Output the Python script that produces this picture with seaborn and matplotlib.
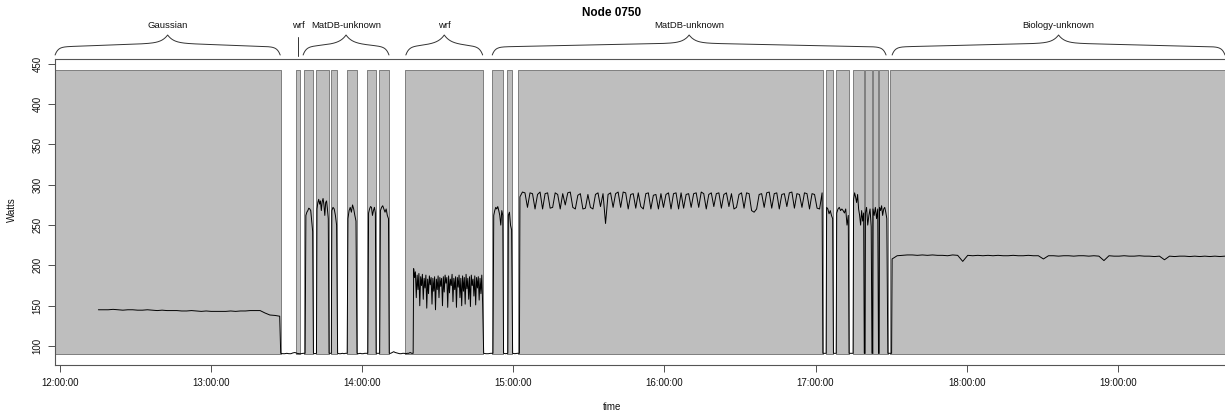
import numpy as np
import pandas as pd
import matplotlib
matplotlib.use("Agg")
import matplotlib.pyplot as plt
import seaborn as sns

# ---------------- data (minutes after 12:00:00) ----------------
title = "Node 0750"
hour_ticks = [0, 60, 120, 180, 240, 300, 360, 420]
hour_labels = ["12:00:00", "13:00:00", "14:00:00", "15:00:00",
               "16:00:00", "17:00:00", "18:00:00", "19:00:00"]
watt_ticks = [100, 150, 200, 250, 300, 350, 400, 450]

# grey "busy" bands
gray_start = [-2.0, 93.7, 97.0, 101.6, 107.6, 113.8, 122.0, 126.6, 137.1,
              171.6, 177.6, 182.0, 304.0, 308.0, 314.7, 319.7, 322.7, 325.3, 329.7]
gray_end = [87.6, 95.3, 100.5, 106.7, 110.1, 117.8, 125.4, 130.6, 168.1,
            176.0, 179.5, 302.8, 307.0, 313.2, 319.3, 322.3, 324.9, 328.6, 480.0]
gray_low, gray_high = 90, 442

# jobs (braces on top)
job_names = ["Gaussian", "wrf", "MatDB-unknown", "wrf", "MatDB-unknown", "Biology-unknown"]
job_start = [-2.0, 94.4, 96.5, 137.3, 171.6, 330.4]
job_end = [87.4, 94.6, 130.6, 167.8, 328.0, 462.6]

# power trace, segment by segment: (start, end, watts)
gauss_w = [145, 145, 145, 145.5, 145, 144.5, 145, 145, 144.5, 144.5, 145, 144.5, 144,
           144.5, 144, 144, 144, 143.5, 143.5, 144, 143.5, 143, 143.5, 143, 143, 143,
           143, 143.5, 143, 143.5, 143.5, 144, 144, 144, 141, 138.5, 138, 137]
idle1_w = [91, 90.5, 90.5, 91, 90.5, 90.5, 91.5, 92, 91, 90.5, 90.5, 91, 91]
matdb_a_w = [262, 266, 268, 271, 270, 268, 255, 242]
idle2_w = [91, 90.5, 91]
matdb_b_w = [270, 278, 282, 276, 280, 268, 279, 283, 275, 262, 278, 280, 270, 258]
idle3_w = [91, 91]
matdb_c_w = [268, 272, 270, 262, 250]
idle4_w = [91, 90.5, 90.5, 91, 90.5, 91, 91]
matdb_d_w = [258, 268, 272, 266, 275, 270, 262, 255]
idle5_w = [91, 90.5, 91, 90.5, 90.5, 91, 91, 91]
matdb_e_w = [265, 270, 273, 272, 262, 268, 272, 265]
idle6_w = [91, 91, 91]
matdb_f_w = [268, 272, 274, 270, 266, 270, 262, 258]
idle7_w = [91, 91, 92, 93, 92, 91.5, 91, 90.5, 90.5, 91, 91, 90.5, 91, 91, 92, 91, 91]
wrf_w = [196, 185, 192, 160, 188, 170, 190, 150, 186, 175, 189, 158, 184, 172, 188, 147,
         183, 165, 187, 176, 185, 152, 184, 168, 186, 145, 183, 170, 187, 160, 185, 174,
         184, 150, 186, 167, 188, 178, 185, 148, 187, 166, 183, 175, 189, 155, 184, 170,
         186, 148, 185, 173, 188, 160, 184, 150, 187, 168, 185, 152, 189, 171, 184, 158,
         186, 149, 188, 175, 183, 162, 187, 151, 185, 172, 186, 157, 184, 165, 188, 152]
idle8_w = [91, 90.5, 90.5, 91, 91]
matdb_g_w = [262, 268, 272, 270, 273, 268, 262, 250, 268, 262]
idle9_w = [91, 90.5, 91]
matdb_h_w = [262, 266, 250, 244]
idle10_w = [91, 90.5, 91, 91]
matdb_big_w = [285, 291, 290, 272, 290, 289, 270, 288, 291, 270,
               289, 290, 271, 272, 290, 288, 270, 289, 275, 290,
               291, 272, 270, 287, 289, 270, 271, 288, 272, 270,
               288, 290, 273, 289, 252, 288, 290, 272, 289, 291,
               272, 291, 290, 270, 288, 289, 271, 290, 273, 270,
               289, 290, 270, 287, 288, 270, 289, 272, 288, 290,
               270, 289, 290, 270, 290, 271, 288, 289, 272, 289,
               290, 272, 291, 289, 270, 288, 290, 273, 289, 290,
               271, 288, 290, 273, 289, 270, 272, 288, 290, 271,
               290, 289, 268, 266, 270, 288, 289, 272, 290, 291,
               271, 289, 290, 270, 288, 289, 273, 290, 291, 271,
               289, 288, 272, 290, 289, 270, 289, 288, 271, 270, 290]
idle11_w = [91, 91]
matdb_i_w = [272, 270, 264, 268, 262, 258]
idle12_w = [91, 91]
matdb_j_w = [265, 270, 272, 268, 270, 268, 265, 270, 250, 262]
idle13_w = [91, 91, 91]
matdb_k_w = [282, 290, 285, 278, 288, 270, 262, 250, 268, 255, 265]
idle14_w = [91, 91]
matdb_l_w = [265, 272, 250, 262, 270, 248]
idle15_w = [91, 91]
matdb_m_w = [270, 262, 272, 258, 270]
idle16_w = [91, 91]
matdb_n_w = [272, 268, 274, 262, 270, 272, 266, 258]
idle17_w = [91, 91, 91]
bio_w = [208, 212, 212.5, 213, 213, 212.5, 213, 212.5, 213, 212.5,
         212.5, 212, 213, 212.5, 205, 212.5, 212, 212.5, 212, 212.5,
         212, 212.5, 212, 212, 212.5, 212, 212, 212.5, 212, 212,
         208, 212, 212, 211.5, 212, 212, 211.5, 212, 212, 211.5,
         212, 211.5, 206, 212, 211.5, 211.5, 212, 211.5, 211.5, 212,
         211.5, 211.5, 211, 211.5, 207, 211.5, 211, 211.5, 211.5, 211,
         211.5, 211, 211.5, 211, 211.5, 211, 211.5]

segments = [
    (15.2, 87.2, gauss_w), (87.6, 97.3, idle1_w), (97.6, 100.3, matdb_a_w),
    (100.6, 101.8, idle2_w), (102.0, 106.5, matdb_b_w), (106.8, 107.7, idle3_w),
    (107.9, 109.8, matdb_c_w), (110.2, 114.0, idle4_w), (114.3, 117.5, matdb_d_w),
    (117.9, 122.2, idle5_w), (122.5, 125.2, matdb_e_w), (125.5, 126.9, idle6_w),
    (127.2, 130.4, matdb_f_w), (130.7, 140.2, idle7_w), (140.4, 167.8, wrf_w),
    (168.2, 171.9, idle8_w), (172.2, 175.8, matdb_g_w), (176.1, 177.8, idle9_w),
    (178.0, 179.3, matdb_h_w), (179.7, 182.4, idle10_w), (182.6, 302.6, matdb_big_w),
    (302.9, 304.2, idle11_w), (304.4, 306.8, matdb_i_w), (307.1, 308.2, idle12_w),
    (308.4, 313.0, matdb_j_w), (313.3, 314.9, idle13_w), (315.1, 319.1, matdb_k_w),
    (319.35, 319.6, idle14_w), (319.8, 322.1, matdb_l_w), (322.4, 322.6, idle15_w),
    (322.8, 324.7, matdb_m_w), (325.0, 325.2, idle16_w), (325.4, 328.3, matdb_n_w),
    (328.7, 330.2, idle17_w), (330.4, 462.6, bio_w),
]

ts, ws = [], []
for t0, t1, vals in segments:
    ts.extend(np.linspace(t0, t1, len(vals)))
    ws.extend(vals)
df = pd.DataFrame({"minute": ts, "watts": ws})

# ---------------- figure ----------------
sns.set_theme(style="white")
plt.rcParams['font.family'] = ['Liberation Sans', 'DejaVu Sans']

W, H = 1225, 415
fig = plt.figure(figsize=(W / 100, H / 100), dpi=100)
ax_l, ax_r, ax_t, ax_b = 55, 1225, 59, 365
ax = fig.add_axes([ax_l / W, 1 - ax_b / H, (ax_r - ax_l) / W, (ax_b - ax_t) / H])

for s, e in zip(gray_start, gray_end):
    ax.fill_between([s, e], [gray_low, gray_low], [gray_high, gray_high],
                    facecolor="#bebebe", edgecolor="#707070", linewidth=0.6, zorder=1)

sns.lineplot(data=df, x="minute", y="watts", estimator=None, sort=False,
             color="black", linewidth=0.7, ax=ax, zorder=3)

ax.set_xlim(-2.03, 462.6)
ax.set_ylim(76.5, 456)
ax.set_xticks(hour_ticks)
ax.set_xticklabels(hour_labels)
ax.set_yticks(watt_ticks)
ax.set_yticklabels([str(v) for v in watt_ticks], rotation=90, va="center")
ax.tick_params(axis="both", which="both", direction="out", length=5, width=0.6,
               color="#333333", labelsize=7, labelcolor="#111111", pad=4,
               bottom=True, left=True)
for side in ["top", "bottom", "left"]:
    ax.spines[side].set_color("#555555")
    ax.spines[side].set_linewidth(0.8)
ax.spines["right"].set_visible(False)
ax.set_xlabel("")
ax.set_ylabel("")
fig.text(612 / W, 1 - 407 / H, "time", ha="center", va="center", fontsize=7, color="#111111")
fig.text(12 / W, 1 - 210 / H, "Watts", ha="center", va="center", rotation=90,
         fontsize=7, color="#111111")
fig.text(612 / W, 1 - 13 / H, title, ha="center", va="center", fontsize=8.5,
         fontweight="bold", color="black")

# braces
px_per_min = (ax_r - ax_l) / (462.6 + 2.03)
axh = ax_b - ax_t


def py(ypix):
    return (ax_b - ypix) / axh


trans = ax.get_xaxis_transform()
tip_y = 55
for name, a, b in zip(job_names, job_start, job_end):
    mid = (a + b) / 2
    if b - a < 1:
        ax.plot([mid, mid], [py(56), py(37)], color="#333333", lw=0.7,
                transform=trans, clip_on=False)
    else:
        half = (b - a) / 2 * px_per_min
        t = np.linspace(0, half, 200)
        rise = 8 * (1 - np.exp(-t / 3.0)) + 4 * (t / half) + 8 * np.exp(-(half - t) / 6.0)
        xl = a + t / px_per_min
        xr = b - t / px_per_min
        yy = [py(tip_y - r) for r in rise]
        ax.plot(np.concatenate([xl, xr[::-1]]), np.concatenate([yy, yy[::-1]]),
                color="#333333", lw=0.7, transform=trans, clip_on=False)
    ax.text(mid, py(25), name, ha="center", va="center", fontsize=6.8,
            color="#111111", transform=trans, clip_on=False)

fig.savefig("out.png", dpi=100)
